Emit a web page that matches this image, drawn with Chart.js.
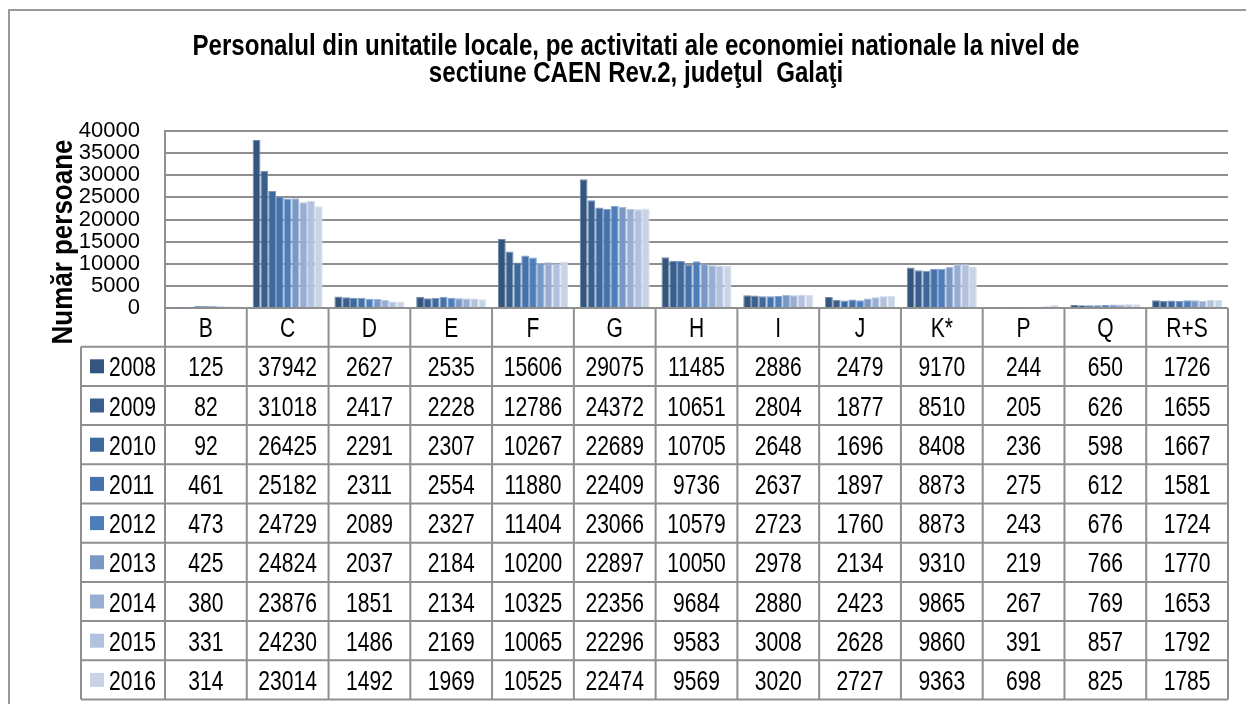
<!DOCTYPE html>
<html>
<head>
<meta charset="utf-8">
<script src="https://cdn.jsdelivr.net/npm/chart.js@4.4.1/dist/chart.umd.min.js"></script>
<style>
html, body { margin: 0; padding: 0; background: #fff; }
#wrap { width: 1246px; height: 704px; position: relative; }
</style>
</head>
<body>
<div id="wrap"><canvas id="chart"></canvas></div>
<script>
const categories = ["B", "C", "D", "E", "F", "G", "H", "I", "J", "K*", "P", "Q", "R+S"]
const years = ["2008", "2009", "2010", "2011", "2012", "2013", "2014", "2015", "2016"]

const v2008 = [125, 37942, 2627, 2535, 15606, 29075, 11485, 2886, 2479, 9170, 244, 650, 1726]
const v2009 = [82, 31018, 2417, 2228, 12786, 24372, 10651, 2804, 1877, 8510, 205, 626, 1655]
const v2010 = [92, 26425, 2291, 2307, 10267, 22689, 10705, 2648, 1696, 8408, 236, 598, 1667]
const v2011 = [461, 25182, 2311, 2554, 11880, 22409, 9736, 2637, 1897, 8873, 275, 612, 1581]
const v2012 = [473, 24729, 2089, 2327, 11404, 23066, 10579, 2723, 1760, 8873, 243, 676, 1724]
const v2013 = [425, 24824, 2037, 2184, 10200, 22897, 10050, 2978, 2134, 9310, 219, 766, 1770]
const v2014 = [380, 23876, 1851, 2134, 10325, 22356, 9684, 2880, 2423, 9865, 267, 769, 1653]
const v2015 = [331, 24230, 1486, 2169, 10065, 22296, 9583, 3008, 2628, 9860, 391, 857, 1792]
const v2016 = [314, 23014, 1492, 1969, 10525, 22474, 9569, 3020, 2727, 9363, 698, 825, 1785]
const seriesValues = [v2008, v2009, v2010, v2011, v2012, v2013, v2014, v2015, v2016]

const yTicks = [0, 5000, 10000, 15000, 20000, 25000, 30000, 35000, 40000]

const titleLines = ['Personalul din unitatile locale, pe activitati ale economiei nationale la nivel de',
                    'sectiune CAEN Rev.2, judeţul  Galaţi']
const axisTitle = 'Număr persoane'

const yearColors = ['#34567e', '#3a5f8f', '#3e699d', '#4672ab', '#4d7ebb', '#7a98c6', '#98add2', '#b2c1de', '#c9d3e6']
const gridColor = '#8f8f8f'
const fontFam = '"Liberation Sans", Arial, sans-serif'

const lighten = (hex, k) => {
    const n = parseInt(hex.slice(1), 16)
    const c = [(n >> 16) & 255, (n >> 8) & 255, n & 255].map(v => Math.round(v + (255 - v) * k))
    return `rgb(${c[0]},${c[1]},${c[2]})`
}

// text squeezed sideways, the source uses a narrow face
const narrowText = (ctx, text, x, y, sx, align) => {
    ctx.save()
    ctx.translate(x, y)
    ctx.scale(sx, 1)
    ctx.textAlign = align
    ctx.fillText(text, 0, 0)
    ctx.restore()
}

const tablePlugin = {
    id: 'dataTable',
    beforeDraw: (chart) => {
        const ctx = chart.ctx
        ctx.save()
        ctx.strokeStyle = '#9a9a9a'
        ctx.lineWidth = 2
        ctx.beginPath()
        ctx.moveTo(9, 704); ctx.lineTo(9, 10); ctx.lineTo(1246, 10)
        ctx.stroke()

        // chart title
        ctx.fillStyle = '#000'
        ctx.textBaseline = 'alphabetic'
        ctx.font = `bold 29px ${fontFam}`
        const sx = 887 / ctx.measureText(titleLines[0]).width
        narrowText(ctx, titleLines[0], 636, 55, sx, 'center')
        narrowText(ctx, titleLines[1], 636, 82, sx, 'center')
        ctx.restore()
    },
    afterDraw: (chart) => {
        const ctx = chart.ctx
        const area = chart.chartArea
        const xs = chart.scales.x
        const colW = (area.right - area.left) / categories.length
        const top = area.bottom
        const headH = 38.7
        const rowH = 39.2
        const legendLeft = 81
        const bottom = top + headH + rowH * years.length

        ctx.save()
        ctx.strokeStyle = gridColor
        ctx.lineWidth = 2
        ctx.beginPath()
        for (let r = 0; r <= years.length; r++) {
            const y = top + headH + r * rowH
            ctx.moveTo(legendLeft, y); ctx.lineTo(area.right, y)
        }
        for (let c = 0; c <= categories.length; c++) {
            const x = area.left + c * colW
            ctx.moveTo(x, top); ctx.lineTo(x, bottom)
        }
        ctx.moveTo(legendLeft, top + headH); ctx.lineTo(legendLeft, bottom)
        ctx.stroke()

        ctx.fillStyle = '#000'
        ctx.font = `27px ${fontFam}`
        ctx.textBaseline = 'alphabetic'
        const tsx = 0.78
        categories.forEach((cat, i) => {
            narrowText(ctx, cat, xs.getPixelForValue(i), top + headH / 2 + 10, tsx, 'center')
        })
        years.forEach((yr, r) => {
            const cy = top + headH + r * rowH + rowH / 2
            seriesValues[r].forEach((val, i) => {
                narrowText(ctx, String(val), xs.getPixelForValue(i), cy + 10, tsx, 'center')
            })
            ctx.fillStyle = yearColors[r]
            ctx.fillRect(90, cy - 7, 14, 14)
            ctx.fillStyle = '#000'
            narrowText(ctx, yr, 109, cy + 10, tsx, 'left')
        })

        // y axis title, rotated
        ctx.font = `bold 30px ${fontFam}`
        const w = ctx.measureText(axisTitle).width
        ctx.translate(72, 242)
        ctx.rotate(-Math.PI / 2)
        ctx.scale(205 / w, 1)
        ctx.textAlign = 'center'
        ctx.fillText(axisTitle, 0, 0)
        ctx.restore()
    }
}

const datasets = years.map((yr, i) => ({
    label: yr,
    data: seriesValues[i],
    backgroundColor: yearColors[i],
    borderColor: lighten(yearColors[i], 0.3),
    borderWidth: 1,
    categoryPercentage: 0.856,
    barPercentage: 1.0
}))

const ctx = document.getElementById('chart').getContext('2d')
const myChart = new Chart(ctx, {
    type: 'bar',
    data: { labels: categories, datasets: datasets },
    options: {
        responsive: true,
        maintainAspectRatio: false,
        animation: false,
        layout: { padding: { left: 44, right: 18, top: 131, bottom: 396 } },
        plugins: {
            legend: { display: false },
            tooltip: { enabled: false },
            title: { display: false }
        },
        scales: {
            x: { display: false },
            y: {
                min: 0,
                max: 40000,
                afterFit: (s) => { s.width = 121 },
                afterBuildTicks: (s) => { s.ticks = yTicks.map(v => ({ value: v })) },
                ticks: {
                    autoSkip: false,
                    padding: 25,
                    color: '#000',
                    font: { family: fontFam, size: 22, lineHeight: 1 },
                    callback: (v) => String(v)
                },
                grid: { color: gridColor, lineWidth: 2, drawTicks: false },
                border: { display: true, color: gridColor, width: 2 }
            }
        }
    },
    plugins: [tablePlugin]
})
</script>
</body>
</html>
